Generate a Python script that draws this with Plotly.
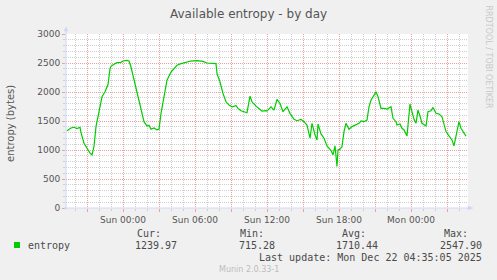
import plotly.graph_objects as go

# ---------------- data ----------------
times = [
    "2025-12-20 19:20", "2025-12-20 19:40", "2025-12-20 19:55", "2025-12-20 20:10", "2025-12-20 20:25",
    "2025-12-20 20:30", "2025-12-20 20:45", "2025-12-20 21:00", "2025-12-20 21:15", "2025-12-20 21:25",
    "2025-12-20 21:35", "2025-12-20 21:45", "2025-12-20 22:00", "2025-12-20 22:15", "2025-12-20 22:30",
    "2025-12-20 22:40", "2025-12-20 22:45", "2025-12-20 22:55", "2025-12-20 23:00", "2025-12-20 23:15",
    "2025-12-20 23:30", "2025-12-20 23:50",
    "2025-12-21 00:00", "2025-12-21 00:20", "2025-12-21 00:30", "2025-12-21 00:40", "2025-12-21 00:55",
    "2025-12-21 01:10", "2025-12-21 01:30", "2025-12-21 01:45", "2025-12-21 02:00", "2025-12-21 02:10",
    "2025-12-21 02:20", "2025-12-21 02:35", "2025-12-21 02:50", "2025-12-21 03:00", "2025-12-21 03:10",
    "2025-12-21 03:25", "2025-12-21 03:40", "2025-12-21 04:00", "2025-12-21 04:15", "2025-12-21 04:30",
    "2025-12-21 04:50", "2025-12-21 05:15", "2025-12-21 05:40", "2025-12-21 06:10", "2025-12-21 06:40",
    "2025-12-21 07:00", "2025-12-21 07:25", "2025-12-21 07:45", "2025-12-21 07:50", "2025-12-21 08:05",
    "2025-12-21 08:20", "2025-12-21 08:35", "2025-12-21 08:50", "2025-12-21 09:05", "2025-12-21 09:25",
    "2025-12-21 09:35", "2025-12-21 09:50", "2025-12-21 10:05", "2025-12-21 10:20", "2025-12-21 10:35",
    "2025-12-21 10:45", "2025-12-21 11:05", "2025-12-21 11:20", "2025-12-21 11:35", "2025-12-21 11:55",
    "2025-12-21 12:00", "2025-12-21 12:20", "2025-12-21 12:35", "2025-12-21 12:50", "2025-12-21 13:05",
    "2025-12-21 13:20", "2025-12-21 13:40", "2025-12-21 13:55", "2025-12-21 14:15", "2025-12-21 14:30",
    "2025-12-21 14:50", "2025-12-21 15:05", "2025-12-21 15:20", "2025-12-21 15:35", "2025-12-21 15:45",
    "2025-12-21 16:00", "2025-12-21 16:10", "2025-12-21 16:15", "2025-12-21 16:30", "2025-12-21 16:45",
    "2025-12-21 17:00", "2025-12-21 17:20", "2025-12-21 17:30", "2025-12-21 17:40", "2025-12-21 17:45",
    "2025-12-21 17:50", "2025-12-21 17:55", "2025-12-21 18:05", "2025-12-21 18:15", "2025-12-21 18:25",
    "2025-12-21 18:35", "2025-12-21 18:50", "2025-12-21 19:05", "2025-12-21 19:25", "2025-12-21 19:40",
    "2025-12-21 19:50", "2025-12-21 20:05", "2025-12-21 20:20", "2025-12-21 20:30", "2025-12-21 20:40",
    "2025-12-21 21:05", "2025-12-21 21:15", "2025-12-21 21:30", "2025-12-21 21:45", "2025-12-21 22:00",
    "2025-12-21 22:20", "2025-12-21 22:30", "2025-12-21 22:45", "2025-12-21 22:50", "2025-12-21 23:05",
    "2025-12-21 23:15", "2025-12-21 23:25", "2025-12-21 23:40", "2025-12-21 23:55",
    "2025-12-22 00:05", "2025-12-22 00:15", "2025-12-22 00:25", "2025-12-22 00:35", "2025-12-22 00:45",
    "2025-12-22 00:55", "2025-12-22 01:15", "2025-12-22 01:25", "2025-12-22 01:40", "2025-12-22 01:50",
    "2025-12-22 02:05", "2025-12-22 02:20", "2025-12-22 02:35", "2025-12-22 02:55", "2025-12-22 03:10",
    "2025-12-22 03:25", "2025-12-22 03:35", "2025-12-22 03:50", "2025-12-22 04:00", "2025-12-22 04:10",
    "2025-12-22 04:20", "2025-12-22 04:35",
]
entropy = [
    1334, 1380, 1392, 1368, 1392,
    1300, 1117, 1032, 946, 917,
    1060, 1403, 1688, 1917, 2003,
    2088, 2129, 2403, 2443, 2477,
    2506, 2511,
    2534, 2546, 2534, 2431, 2215,
    1975, 1718, 1488, 1414, 1426,
    1358, 1380, 1346, 1358, 1632,
    1910, 2203, 2345, 2403, 2460,
    2489, 2511, 2534, 2540, 2528,
    2500, 2494, 2489, 2317, 2174,
    1975, 1831, 1774, 1745, 1763,
    1718, 1677, 1660, 1643, 1929,
    1831, 1757, 1718, 1671, 1677,
    1671, 1745, 1688, 1871, 1803,
    1660, 1745, 1632, 1529, 1505,
    1529, 1488, 1431, 1203, 1460,
    1260, 1174, 1448, 1277, 1203,
    1071, 991, 917, 1071, 888,
    715, 1003, 1014, 1060, 1317,
    1460, 1358, 1403, 1431, 1460,
    1500, 1488, 1517, 1745, 1860,
    2003, 1917, 1718, 1718, 1706,
    1745, 1546, 1488, 1431, 1448,
    1375, 1346, 1243, 1791,
    1643, 1529, 1460, 1688, 1586,
    1460, 1414, 1660, 1677, 1734,
    1632, 1620, 1574, 1317, 1243,
    1174, 1071, 1358, 1488, 1375,
    1317, 1240,
]

x_range = ["2025-12-20 19:15", "2025-12-22 04:45"]
x_tick_vals = ["2025-12-20 21:00", "2025-12-21 00:00", "2025-12-21 03:00", "2025-12-21 06:00",
               "2025-12-21 09:00", "2025-12-21 12:00", "2025-12-21 15:00", "2025-12-21 18:00",
               "2025-12-21 21:00", "2025-12-22 00:00", "2025-12-22 03:00"]
x_tick_text = ["", "Sun 00:00", "", "Sun 06:00", "", "Sun 12:00", "", "Sun 18:00", "", "Mon 00:00", ""]
y_tick_vals = [0, 500, 1000, 1500, 2000, 2500, 3000]
y_tick_text = ["0", "500", "1000", "1500", "2000", "2500", "3000"]

title_text = "Available entropy - by day"
y_title = "entropy (bytes)"
series_name = "entropy"
stat_headers = ["Cur:", "Min:", "Avg:", "Max:"]
stat_values = ["1239.97", "715.28", "1710.44", "2547.90"]
last_update = "Last update: Mon Dec 22 04:35:05 2025"
footer = "Munin 2.0.33-1"
side_text = "RRDTOOL / TOBI OETIKER"

# ---------------- layout ----------------
W, H = 497, 280
L, R, T, B = 66, 468, 34, 208
LINE_GREEN = "#00CC00"
AXIS_COL = "#CFD6F8"
FONT_COL = "#555555"
MGRID = "#EE9E9E"
GRID = "#CFCFCF"


def px(x):
    return (x - L) / (R - L)


def py(y):
    return (B - y) / (B - T)


fig = go.Figure()
fig.add_trace(go.Scatter(x=times, y=entropy, mode="lines",
                         line=dict(color=LINE_GREEN, width=1.2), name=series_name,
                         showlegend=False, hoverinfo="skip"))

fig.update_layout(
    width=W, height=H,
    margin=dict(l=L, r=W - R, t=T, b=H - B, pad=0),
    paper_bgcolor="#F0F0F0", plot_bgcolor="#FFFFFF",
    font=dict(family="DejaVu Sans", color=FONT_COL, size=9),
    showlegend=False,
)

fig.update_xaxes(
    type="date", range=x_range,
    tickmode="array", tickvals=x_tick_vals, ticktext=x_tick_text,
    showgrid=True, gridcolor=MGRID, griddash="1px,1px", gridwidth=1,
    ticks="outside", ticklen=3, tickcolor=MGRID,
    tickfont=dict(family="DejaVu Sans", size=9, color=FONT_COL),
    minor=dict(dtick=3600000, tick0="2025-12-21 00:00", showgrid=True, gridcolor=GRID,
               griddash="1px,1px", ticks="outside", ticklen=2, tickcolor=GRID),
    showline=False, zeroline=False, fixedrange=True,
)
fig.update_yaxes(
    range=[0, 3000],
    tickmode="array", tickvals=y_tick_vals, ticktext=y_tick_text,
    showgrid=True, gridcolor=MGRID, griddash="1px,1px", gridwidth=1,
    ticks="outside", ticklen=3, tickcolor=MGRID,
    tickfont=dict(family="DejaVu Sans", size=9, color=FONT_COL),
    minor=dict(dtick=100, tick0=0, showgrid=True, gridcolor=GRID,
               griddash="1px,1px", ticks="outside", ticklen=2, tickcolor=GRID),
    showline=False, zeroline=False, fixedrange=True,
)

shapes = [
    # axis lines
    dict(type="line", xref="paper", yref="paper", x0=px(L - 2), x1=px(R), y0=0, y1=0,
         line=dict(color=AXIS_COL, width=1), layer="above"),
    dict(type="line", xref="paper", yref="paper", x0=0, x1=0, y0=py(B + 2), y1=py(31),
         line=dict(color=AXIS_COL, width=1), layer="above"),
    # arrows
    dict(type="path", xref="paper", yref="paper",
         path=f"M {px(64)} {py(31)} L {px(68)} {py(31)} L {px(66)} {py(27)} Z",
         fillcolor=AXIS_COL, line=dict(color=AXIS_COL, width=0.5), layer="above"),
    dict(type="path", xref="paper", yref="paper",
         path=f"M {px(468)} {py(206)} L {px(468)} {py(210)} L {px(473)} {py(208)} Z",
         fillcolor=AXIS_COL, line=dict(color=AXIS_COL, width=0.5), layer="above"),
    # legend swatch
    dict(type="rect", xref="paper", yref="paper",
         x0=px(14), x1=px(20), y0=py(248), y1=py(242),
         fillcolor=LINE_GREEN, line=dict(width=0)),
]

ann = []
ann.append(dict(text=title_text, x=px(248), y=py(14), xref="paper", yref="paper",
                xanchor="center", yanchor="middle", showarrow=False,
                font=dict(family="DejaVu Sans", size=12, color=FONT_COL)))
ann.append(dict(text=y_title, x=px(10.5), y=py(123.5), xref="paper", yref="paper",
                xanchor="center", yanchor="middle", showarrow=False, textangle=-90,
                font=dict(family="DejaVu Sans", size=10, color=FONT_COL)))
ann.append(dict(text=side_text, x=px(488), y=py(56.5), xref="paper", yref="paper",
                xanchor="center", yanchor="middle", showarrow=False, textangle=90,
                font=dict(family="DejaVu Sans", size=8, color="#C8C8C8")))

MONO = "DejaVu Sans Mono"
LEG_COL = "#4A4A4A"
header_right = [163, 266, 367.5, 470]
value_right = [179, 277, 380, 484]
for h, xr in zip(stat_headers, header_right):
    ann.append(dict(text=h, x=px(xr), y=py(233.5), xref="paper", yref="paper",
                    xanchor="right", yanchor="middle", showarrow=False,
                    font=dict(family=MONO, size=10, color=LEG_COL)))
for v, xr in zip(stat_values, value_right):
    ann.append(dict(text=v, x=px(xr), y=py(245.5), xref="paper", yref="paper",
                    xanchor="right", yanchor="middle", showarrow=False,
                    font=dict(family=MONO, size=10, color=LEG_COL)))
ann.append(dict(text=series_name, x=px(26), y=py(245.5), xref="paper", yref="paper",
                xanchor="left", yanchor="middle", showarrow=False,
                font=dict(family=MONO, size=10, color=LEG_COL)))
ann.append(dict(text=last_update, x=px(484), y=py(257.5), xref="paper", yref="paper",
                xanchor="right", yanchor="middle", showarrow=False,
                font=dict(family=MONO, size=10, color=LEG_COL)))
ann.append(dict(text=footer, x=px(248.7), y=py(269.5), xref="paper", yref="paper",
                xanchor="center", yanchor="middle", showarrow=False,
                font=dict(family="DejaVu Sans", size=8, color="#BDBDBD")))

fig.update_layout(shapes=shapes, annotations=ann)
fig.write_html("out.html", config={"displayModeBar": False})
